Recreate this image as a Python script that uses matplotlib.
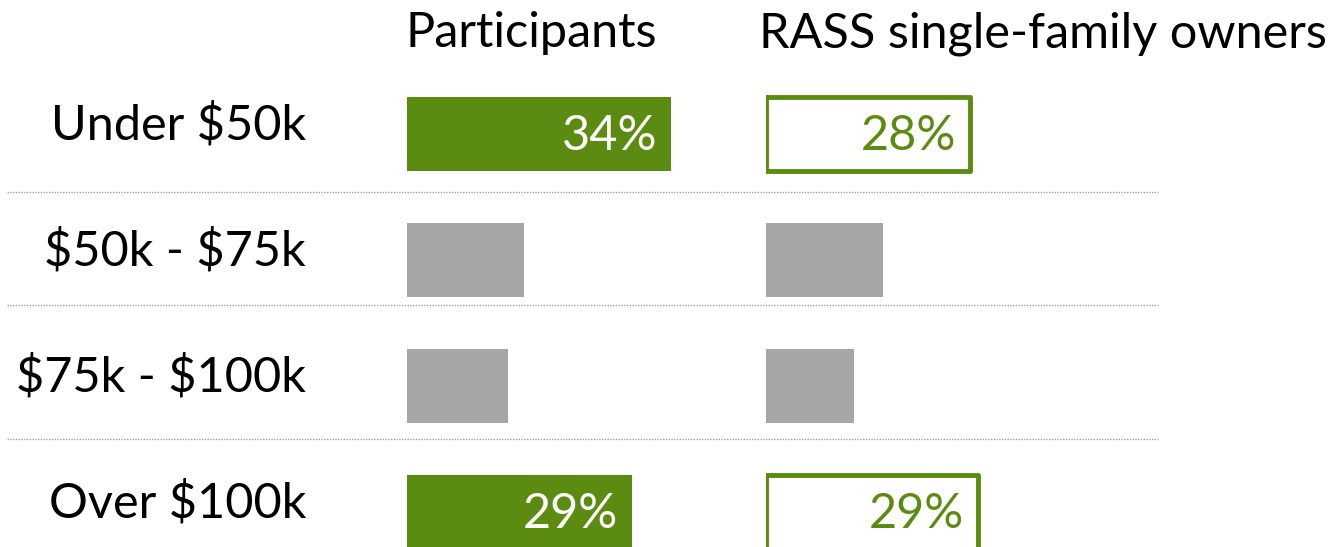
import matplotlib
matplotlib.use('Agg')
import matplotlib.pyplot as plt
import matplotlib.transforms as mtransforms
from matplotlib.lines import Line2D

"""income split of participants vs RASS single-family owners"""

categories = ['Under $50k', '$50k - $75k', '$75k - $100k', 'Over $100k']
participants = [34, 15, 13, 29]
rass = [28, 16, 12, 29]
highlight = [True, False, False, True]   # rows that get green bars + labels

GREEN = '#5B8C11'
GREY = '#A6A6A6'
FONT = 'Lato'
FS = 35

plt.rcParams['text.parse_math'] = False

W, H = 1329, 547
fig = plt.figure(figsize=(W / 100, H / 100), dpi=100)


def px_x(x):
    return x / W


def px_y(y):
    return 1 - y / H


# row centres at 134px, spacing ~126px; bottom row runs off the figure
top, bottom = 71, 575
ax1 = fig.add_axes([px_x(407), px_y(bottom), 40 * 7.77 / W, (bottom - top) / H])
ax2 = fig.add_axes([px_x(766), px_y(bottom), 40 * 7.30 / W, (bottom - top) / H])

ypos = list(range(len(categories)))
for ax, vals, outlined in [(ax1, participants, False), (ax2, rass, True)]:
    for y, v, hl in zip(ypos, vals, highlight):
        if hl and outlined:
            ax.barh(y, v, height=0.58, color='white', edgecolor=GREEN,
                    linewidth=3.5, joinstyle='round')
            tc = GREEN
        elif hl:
            ax.barh(y, v, height=0.58, color=GREEN, linewidth=0)
            tc = 'white'
        else:
            ax.barh(y, v, height=0.58, color=GREY, linewidth=0)
            tc = None
        if tc is not None:
            ax.annotate('%d%%' % v, (v, y), xytext=(-10, -11.5),
                        textcoords='offset points', ha='right', va='baseline',
                        color=tc, fontsize=FS, family=FONT)
    ax.set_xlim(0, 40)
    ax.set_ylim(3.5, -0.5)
    ax.axis('off')

# category labels, right aligned
trans = mtransforms.blended_transform_factory(fig.transFigure, ax1.transData)
for y, c in zip(ypos, categories):
    ax1.annotate(c, (px_x(306), y), xycoords=trans, xytext=(0, -4.3),
                 textcoords='offset points', ha='right', va='baseline',
                 fontsize=FS, family=FONT, color='black')

# column headers
fig.text(px_x(531), px_y(47), 'Participants', ha='center', va='baseline',
         fontsize=FS, family=FONT)
fig.text(px_x(1043), px_y(47), 'RASS single-family owners', ha='center',
         va='baseline', fontsize=FS, family=FONT)

# dotted separators
for sy in [192, 305, 439]:
    fig.add_artist(Line2D([px_x(7), px_x(1158)], [px_y(sy), px_y(sy)],
                          transform=fig.transFigure, color='#A0A0A0',
                          linewidth=1, linestyle=(0, (1, 1))))

plt.savefig('out.png', dpi=100)
